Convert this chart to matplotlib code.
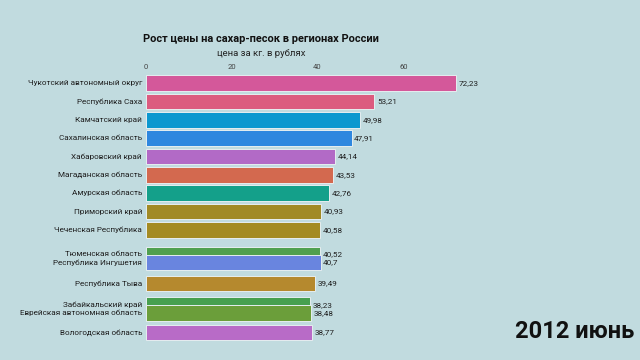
import matplotlib
matplotlib.use("Agg")
import matplotlib.pyplot as plt

plt.rcParams['font.family'] = ['Roboto', 'DejaVu Sans']

regions = [
    "Чукотский автономный округ", "Республика Саха", "Камчатский край",
    "Сахалинская область", "Хабаровский край", "Магаданская область",
    "Амурская область", "Приморский край", "Чеченская Республика",
    "Тюменская область", "Республика Ингушетия", "Республика Тыва",
    "Забайкальский край", "Еврейская автономная область", "Вологодская область",
]
prices = [72.23, 53.21, 49.98, 47.91, 44.14, 43.53, 42.76, 40.93, 40.58,
          40.52, 40.7, 39.49, 38.23, 38.48, 38.77]
# animated rank of each bar in this frame (fractional while bars move)
rank = [0, 1, 2, 3, 4, 5, 6, 7, 8, 9.33, 9.77, 10.92, 12.09, 12.53, 13.57]
colors = ["#d4589a", "#dc5b7f", "#0b98cf", "#2e87df", "#b26ac6", "#d3694f",
          "#14a08a", "#a18a25", "#a48b22", "#50a04f", "#6985df", "#b5892e",
          "#47a04f", "#6b9e3a", "#b86bc7"]
ticks = [0, 20, 40, 60]

bg = "#c1dbdf"
fig = plt.figure(figsize=(6.4, 3.6), dpi=100, facecolor=bg)
ax = fig.add_axes([145.5 / 640, 15 / 360, 344 / 640, 271 / 360])
ax.set_facecolor(bg)

for name, val, r, c in zip(regions, prices, rank, colors):
    ax.barh(r, val, height=0.85, color=c, edgecolor="#e6eef0", linewidth=0.7)
    ax.text(-0.8, r, name, ha="right", va="center", fontsize=5.9, color="#1e1e1e")
    ax.text(val + 0.6, r, f"{val:g}".replace(".", ","), ha="left", va="center",
            fontsize=5.9, color="#1e1e1e")

ax.set_xlim(0, 80)
ax.set_ylim(14.26, -0.49)
ax.xaxis.tick_top()
ax.set_xticks(ticks)
ax.tick_params(axis="x", length=0, labelsize=5.5, labelcolor="#444444", pad=3)
ax.set_yticks([])
for s in ax.spines.values():
    s.set_visible(False)

fig.text(261 / 640, 1 - 39 / 360, "Рост цены на сахар-песок в регионах России",
         ha="center", va="center", fontsize=7.9, fontweight="bold", color="#111111")
fig.text(261 / 640, 1 - 53 / 360, "цена за кг. в рублях",
         ha="center", va="center", fontsize=6.8, color="#222222")
fig.text(634 / 640, 1 - 332 / 360, "2012 июнь", ha="right", va="center",
         fontsize=17, fontweight="bold", color="#111111")

fig.savefig("out.png", dpi=100, facecolor=bg)
